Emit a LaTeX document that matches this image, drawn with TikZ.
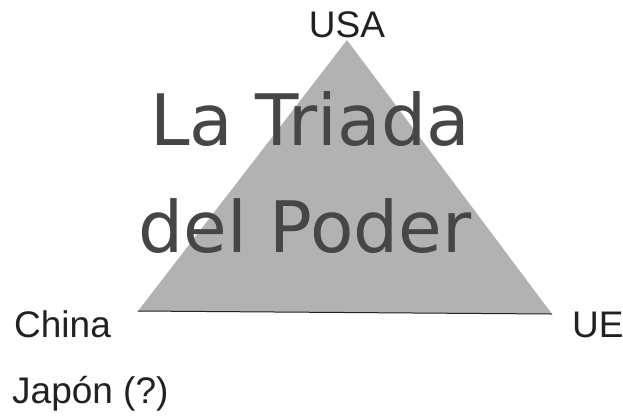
\documentclass[tikz,border=0pt]{standalone}
\usepackage{fontspec}
\setmainfont{Liberation Sans}
\newfontfamily\titlefont{DejaVu Sans}
\usetikzlibrary{positioning}
\usepackage{xcolor}
\definecolor{pyramidgray}{RGB}{178, 178, 178}
\definecolor{titlegray}{RGB}{70, 70, 70}
\definecolor{textdark}{RGB}{33, 33, 33}

\begin{document}
\begin{tikzpicture}[
    x=1pt, y=-1pt,
    bloc/.style={font=\fontsize{37}{44}\selectfont, color=textdark, inner sep=0pt},
    titleline/.style={font=\titlefont\fontsize{71}{84}\selectfont, color=titlegray, inner sep=0pt, anchor=base},
]
\useasboundingbox (0,0) rectangle (623,416);

% Triangle
\coordinate (apex) at (347, 40);
\coordinate (left) at (138, 311);
\coordinate (right) at (552, 314);
\fill[pyramidgray] (apex) -- (left) -- (right) -- cycle;
\draw[textdark, line width=1pt] (left) -- (right);

% Title
\node[titleline] (title1) at (310, 145) {La Triada};
\node[titleline] (title2) at (305, 252) {del Poder};

% Blocs
\node[bloc, anchor=base] (usa) at (347, 37) {USA};
\node[bloc, anchor=base west] (china) at (14, 337) {China};
\node[bloc, anchor=base west] (ue) at (572, 337) {UE};
\node[bloc, anchor=base west] (japon) at (12, 403) {Japón (?)};

\end{tikzpicture}
\end{document}
